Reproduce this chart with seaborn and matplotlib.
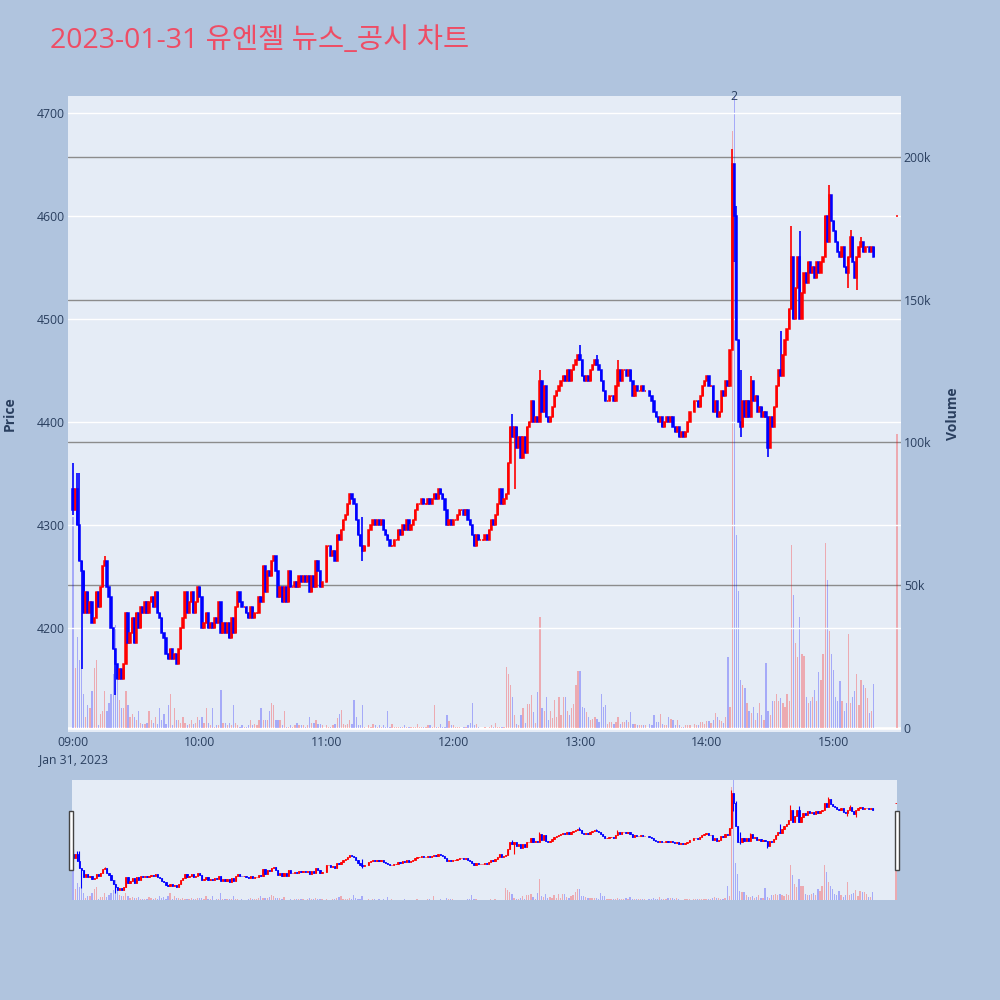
import numpy as np
import pandas as pd
import matplotlib
matplotlib.use('Agg')
import matplotlib.pyplot as plt
import matplotlib.transforms as mtransforms
from matplotlib.patches import Rectangle
from matplotlib.ticker import FuncFormatter
import seaborn as sns

title = '2023-01-31 유엔젤 뉴스_공시 차트'

# minute closes, one list per hour (None = no trade in that minute)
close_09 = [4315, 4335, 4300, 4265, 4255, 4215, 4235, 4215, 4225, 4205,
            4210, 4235, 4220, 4240, 4260, 4265, 4240, 4230, 4200, 4180,
            4165, 4150, 4160, 4150, 4165, 4215, 4185, 4195, 4210, 4185,
            4215, 4200, 4220, 4215, 4225, 4215, 4225, 4230, 4220, 4235,
            4215, 4210, 4195, 4190, 4175, 4170, 4180, 4170, 4175, 4165,
            4180, 4200, 4210, 4235, 4215, 4225, 4235, 4215, 4225, 4240]
close_10 = [4230, 4200, 4205, 4215, 4200, 4205, 4200, 4210, 4205, 4225,
            4195, 4205, 4195, 4205, 4190, 4210, 4195, 4220, 4235, 4225,
            4220, 4220, 4215, 4210, 4220, 4210, 4215, 4215, 4230, 4225,
            4260, 4235, 4255, 4250, 4265, 4270, 4255, 4230, 4240, 4225,
            4240, 4225, 4255, 4240, 4240, 4245, 4240, 4250, 4245, 4250,
            4245, 4250, 4235, 4250, 4240, 4265, 4255, 4240, 4245, None]
close_11 = [4280, 4280, 4270, 4275, 4265, 4290, 4285, 4295, 4305, 4310,
            4320, 4330, 4325, 4320, 4305, 4290, 4280, 4275, 4280, None,
            4295, 4300, 4305, 4300, 4305, 4300, 4305, 4295, 4290, 4285,
            4280, 4280, 4285, 4285, 4295, 4290, 4300, 4295, 4305, 4295,
            4300, 4305, 4315, 4320, 4320, 4325, 4320, 4320, 4325, 4320,
            4325, 4330, 4325, 4335, 4330, 4325, 4315, 4300, 4305, 4300]
close_12 = [4305, 4305, 4310, 4315, 4315, 4310, 4315, 4305, 4300, 4290,
            4280, 4290, 4285, 4285, 4285, 4290, 4285, 4295, 4305, 4300,
            4310, 4320, 4335, 4320, 4325, 4330, 4360, 4395, 4385, 4395,
            4375, 4385, 4365, 4385, 4370, 4395, 4400, 4420, 4400, 4405,
            4400, 4440, 4410, 4435, 4405, 4400, 4405, 4415, 4425, 4430,
            4435, 4440, 4445, 4440, 4450, 4440, 4450, 4455, 4460, 4465]
close_13 = [4460, 4445, 4440, 4445, 4440, 4450, 4455, 4460, 4455, 4450,
            4440, 4430, 4420, 4420, 4425, 4425, 4420, 4435, 4450, 4440,
            4450, 4450, 4445, 4450, 4440, 4425, 4435, 4430, 4430, 4435,
            4430, 4430, None, 4425, 4420, 4410, 4405, 4400, 4405, 4395,
            4400, 4405, 4400, 4405, 4395, 4390, 4395, 4385, 4390, 4385,
            4390, 4400, 4410, None, 4420, 4420, 4415, 4425, 4435, 4440]
close_14 = [4445, 4435, 4435, 4410, 4420, 4405, 4410, 4430, 4425, 4440,
            4435, 4470, 4650, 4600, 4480, 4400, 4395, 4420, 4405, 4420,
            4405, 4440, 4420, 4425, 4410, 4415, 4405, 4410, 4405, 4375,
            4405, 4395, 4415, 4435, 4450, 4445, 4465, 4480, 4490, 4510,
            4560, 4500, 4530, 4560, 4500, 4525, 4545, 4535, 4555, 4545,
            4550, 4540, 4555, 4545, 4555, 4560, 4600, 4575, 4620, 4595]
close_15 = [4585, 4575, 4565, 4560, 4570, 4550, 4545, 4560, 4580, 4555,
            4540, 4560, 4570, 4575, 4565, 4570, 4570, 4565, 4570, 4560]

# minute volumes in thousands of shares
vol_09 = [74, 21, 32, 24, 31, 12, 4, 8, 7, 13,
          21, 24, 1, 5, 6, 13, 6, 9, 12, 19,
          36, 17, 10, 7, 7, 13, 8, 4, 5, 4,
          3, 6, 2, 1.5, 1.5, 2, 6, 3, 2, 4,
          1.5, 7, 3, 5, 1.5, 8, 12, 1, 7, 3,
          3, 2, 4, 2, 1, 1.5, 3, 1.5, 2, 4]
vol_10 = [3, 4, 2, 7, 2, 1, 7, 0.5, 1, 1,
          13.5, 2, 2, 1, 2, 1, 8, 2, 1, 0.5,
          1, 0.5, 0.5, 1, 3, 1, 1.5, 1, 3, 7,
          3, 3, 3, 6, 9, 8, 3, 3, 3, 1,
          6, 0.5, 0.5, 1, 0.5, 1, 2, 1, 1, 1,
          0.5, 1, 4, 2, 2, 3, 1.5, 1.5, 1, 0]
vol_11 = [1, 0.5, 0.5, 1, 1.5, 3.5, 5, 6.5, 1.5, 1,
          1.5, 3, 1.5, 10, 4, 1, 1, 8, 0.5, 0,
          1, 0.5, 1.5, 1, 0.5, 1, 0.5, 1, 0.5, 6,
          0.5, 1.5, 0.5, 0.3, 0.5, 0.5, 0.5, 1, 0.5, 0.5,
          0.5, 0.5, 0.5, 1.5, 0.5, 0.5, 0.5, 0.5, 1, 1,
          0.5, 8, 0.5, 0.5, 1.5, 0.5, 0.5, 4.5, 2.5, 1]
vol_12 = [1, 0.5, 0.3, 0.3, 0.2, 0.3, 0.5, 1, 2, 9,
          1, 1.5, 0.3, 0.2, 0.2, 0.3, 0.2, 0.3, 1, 0.5,
          2, 0.3, 0.6, 0.3, 0.5, 21.5, 19, 15, 11, 4.5,
          1.6, 1, 4.5, 7, 2, 8.6, 8.6, 11.5, 5.7, 2,
          12.8, 39, 7, 6, 11, 3, 6, 3.5, 9.8, 4,
          11, 4.5, 11, 11, 6, 4.5, 7, 8.6, 15, 20]
vol_13 = [20, 7.5, 7, 5.7, 4, 2.8, 3.4, 4, 3.4, 2.2,
          12, 7.5, 8, 1.6, 2.2, 2.2, 1.6, 2.2, 4, 1.6,
          2.2, 2.2, 2.8, 2.2, 5.7, 1.6, 1.6, 1, 1, 1,
          1, 1, 0, 1.6, 1, 4.5, 2.2, 2.2, 5, 1.6,
          1, 1, 4, 3.4, 2.8, 1, 2.8, 1, 0.5, 0.5,
          1, 1, 1, 0, 1.6, 1, 1, 2.2, 2.2, 1.6]
vol_14 = [2.6, 2.6, 2, 3, 5.4, 4, 3, 2.6, 2, 4,
          25, 7.5, 209, 240, 67.6, 48, 17, 15, 14, 9,
          6, 5.4, 7.5, 3, 5.4, 9, 4.5, 3, 23, 6,
          4.5, 9.7, 9.7, 11.9, 9.7, 10.6, 9, 7.5, 11.9, 9.7,
          64, 46.8, 30, 24.8, 38.8, 26, 25.2, 11, 9, 9.7,
          11, 13.3, 9.7, 19.8, 17, 26, 64.8, 52, 34, 26]
vol_15 = [20.5, 11, 9.7, 16.7, 9.7, 6, 9, 33, 9, 11,
          13, 19, 8, 17, 15, 14, 10.6, 5.4, 6, 15.4]

day_open = 4335
auction_time = '15:30'
auction_open, auction_close, auction_vol = 4600, 4600, 103

# visible wick extremes
wick_high = {'09:00': 4360, '09:02': 4350, '09:03': 4350, '09:15': 4270,
             '11:17': 4308, '12:28': 4408, '12:41': 4450, '13:00': 4475,
             '13:08': 4465, '13:18': 4460, '14:12': 4665, '14:14': 4610,
             '14:16': 4450, '14:21': 4445, '14:35': 4488, '14:40': 4590,
             '14:44': 4585, '14:58': 4630, '15:08': 4586, '15:13': 4580}
wick_low = {'09:00': 4310, '09:04': 4160, '09:20': 4135, '11:17': 4265,
            '12:29': 4335, '14:13': 4555, '14:16': 4385, '14:29': 4366,
            '15:07': 4530, '15:11': 4528}

news_time, news_count = '14:13', '2'
hour_labels = ['09:00', '10:00', '11:00', '12:00', '13:00', '14:00', '15:00']
date_label = 'Jan 31, 2023'


def to_min(t):
    h, m = t.split(':')
    return (int(h) - 9) * 60 + int(m)


closes = close_09 + close_10 + close_11 + close_12 + close_13 + close_14 + close_15
vols = vol_09 + vol_10 + vol_11 + vol_12 + vol_13 + vol_14 + vol_15
df = pd.DataFrame({'minute': np.arange(len(closes)), 'close': closes,
                   'volume': np.array(vols, dtype=float) * 1000})
df = df.dropna(subset=['close']).reset_index(drop=True)
df['open'] = df['close'].shift(1).fillna(day_open)
df = pd.concat([df, pd.DataFrame({'minute': [to_min(auction_time)], 'close': [auction_close],
                                  'volume': [auction_vol * 1000], 'open': [auction_open]})],
               ignore_index=True)
df['high'] = df[['open', 'close']].max(axis=1)
df['low'] = df[['open', 'close']].min(axis=1)
for t, v in wick_high.items():
    df.loc[df['minute'] == to_min(t), 'high'] = v
for t, v in wick_low.items():
    df.loc[df['minute'] == to_min(t), 'low'] = v
df['up'] = df['close'] >= df['open']

RED, BLUE = '#ff0000', '#0000ff'
VRED, VBLUE = (1, 0, 0, 0.28), (0, 0, 1, 0.28)
TXT = '#2a3f5f'
BG = '#b0c4de'
PLOT_BG = '#e5ecf6'

sns.set_theme(style='white')
plt.rcParams['font.family'] = ['Open Sans', 'Noto Sans CJK KR', 'DejaVu Sans']

fig = plt.figure(figsize=(10, 10), dpi=100, facecolor=BG)


def draw_candles(a, d, body_lw, wick_lw):
    col = np.where(d['up'], RED, BLUE)
    a.vlines(d['minute'], d['low'], d['high'], colors=col, lw=wick_lw, zorder=3)
    a.bar(d['minute'], d['close'] - d['open'], bottom=d['open'], width=0.6,
          color=col, edgecolor=col, linewidth=body_lw, zorder=4)


def draw_volume(a, d):
    vcol = [VRED if u else VBLUE for u in d['up']]
    a.bar(d['minute'], d['volume'], width=0.6, color=vcol, linewidth=0, zorder=2)


# main chart: volume axis behind, price axis on top
ax = fig.add_axes([0.068, 0.268, 0.833, 0.636])
ax2 = ax.twinx()
ax.set_zorder(ax2.get_zorder() + 1)
ax.patch.set_visible(False)
ax2.patch.set_visible(True)
ax2.set_facecolor(PLOT_BG)

draw_volume(ax2, df)
draw_candles(ax, df, 1.1, 1.2)

ax.set_xlim(-2.4, 391.9)
ax.set_ylim(4099, 4716.5)
ax2.set_ylim(-1300, 221200)

ax.set_yticks([4200, 4300, 4400, 4500, 4600, 4700])
ax.grid(axis='y', color='white', lw=1)
ax.grid(axis='x', visible=False)
ax2.set_yticks([0, 50000, 100000, 150000, 200000])
ax2.yaxis.set_major_formatter(FuncFormatter(lambda v, p: '0' if v == 0 else f'{int(v / 1000)}k'))
ax2.grid(axis='y', color='#8c8c8c', lw=1)
ax2.grid(axis='x', visible=False)
ax2.axhline(0, color='white', lw=2, zorder=1)

xt = [to_min(h) for h in hour_labels]
xl = [hour_labels[0] + '\n' + date_label] + hour_labels[1:]
ax.set_xticks(xt)
ax.set_xticklabels(xl, linespacing=1.35)

for a in (ax, ax2):
    for s in a.spines.values():
        s.set_visible(False)
    a.tick_params(length=0, labelsize=8.8, labelcolor=TXT, pad=2)
ax.tick_params(axis='x', pad=3)

ax.set_ylabel('Price', fontsize=10, fontweight='bold', color=TXT)
ax.yaxis.set_label_coords(-0.061, 0.5)
ax2.set_ylabel('Volume', fontsize=10, fontweight='bold', color=TXT, rotation=90)
ax2.yaxis.set_label_coords(1.054, 0.5)

trans = mtransforms.blended_transform_factory(ax.transData, ax.transAxes)
ax.text(to_min(news_time), 1.0, news_count, transform=trans, ha='center', va='center',
        fontsize=8.8, color=TXT, clip_on=False, zorder=6)

# range slider
axs = fig.add_axes([0.072, 0.1, 0.825, 0.12])
axs2 = axs.twinx()
axs.set_zorder(axs2.get_zorder() + 1)
axs.patch.set_visible(False)
axs2.patch.set_visible(True)
axs2.set_facecolor(PLOT_BG)
draw_volume(axs2, df)
draw_candles(axs, df, 0.6, 0.8)
axs.set_xlim(-0.5, 390.5)
axs.set_ylim(4099, 4716.5)
axs2.set_ylim(0, 221200)
for a in (axs, axs2):
    a.set_xticks([])
    a.set_yticks([])
    a.grid(False)
    for s in a.spines.values():
        s.set_visible(False)

for hx in (0.0693, 0.8953):
    fig.add_artist(Rectangle((hx, 0.130), 0.004, 0.059, transform=fig.transFigure,
                             facecolor='white', edgecolor='#444444', lw=1, zorder=10))

fig.text(0.05, 0.959, title, fontsize=20.5, color='#ee4d65', va='center', ha='left',
         family=['Open Sans', 'Noto Sans CJK KR'])

fig.savefig('out.png', dpi=100, facecolor=BG)
